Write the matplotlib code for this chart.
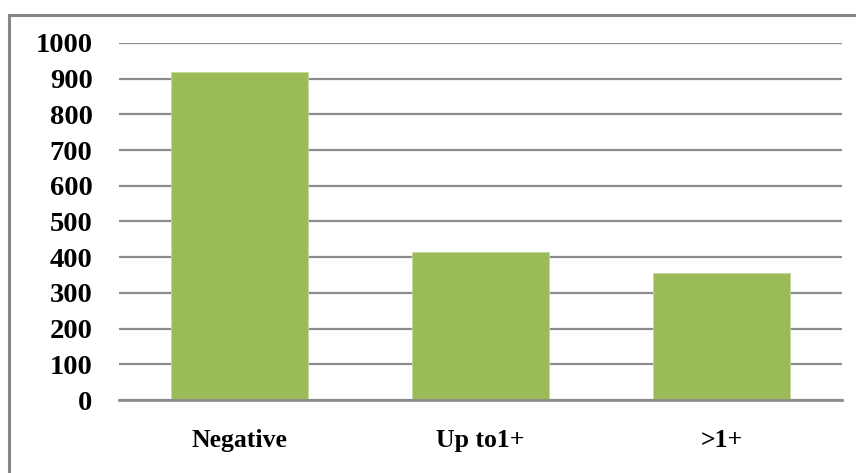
import matplotlib.pyplot as plt
from matplotlib.patches import Rectangle

categories = ["Negative", "Up to1+", ">1+"]
counts = [919, 415, 356]
y_ticks = [0, 100, 200, 300, 400, 500, 600, 700, 800, 900, 1000]

plt.rcParams["font.family"] = ["Liberation Serif", "DejaVu Serif"]
plt.rcParams["font.weight"] = "bold"

fig = plt.figure(figsize=(8.56, 4.73), dpi=100)
W, H = 856, 473
ax = fig.add_axes([119 / W, 1 - 400 / H, (842 - 119) / W, (400 - 43) / H])

# chart frame (cropped on the right and bottom)
fig.patches.append(Rectangle((8.5 / W, -0.1), 1.2, 1 - 15.5 / H + 0.1,
                             transform=fig.transFigure, fill=False,
                             edgecolor="#878787", linewidth=2.2))

x = range(len(categories))
ax.bar(x, counts, width=0.57, color="#9BBB59", edgecolor="#c5d9a0",
       linewidth=0.6, zorder=3)

ax.set_xlim(-0.5, len(categories) - 0.5)
ax.set_ylim(0, 1000)
ax.set_yticks(y_ticks)
ax.set_xticks(list(x))
ax.set_xticklabels(categories)
ax.yaxis.grid(True, color="#8c8c8c", linewidth=1.6, zorder=0)
ax.set_axisbelow(True)

for s in ["top", "right", "left"]:
    ax.spines[s].set_visible(False)
ax.spines["bottom"].set_color("#8c8c8c")
ax.spines["bottom"].set_linewidth(2)
ax.spines["bottom"].set_zorder(4)

ax.tick_params(axis="y", length=0, pad=19, labelsize=20.5)
ax.tick_params(axis="x", length=0, pad=21, labelsize=18.5)
for lbl in ax.get_xticklabels() + ax.get_yticklabels():
    lbl.set_fontweight("bold")

fig.savefig("out.png", dpi=100)
